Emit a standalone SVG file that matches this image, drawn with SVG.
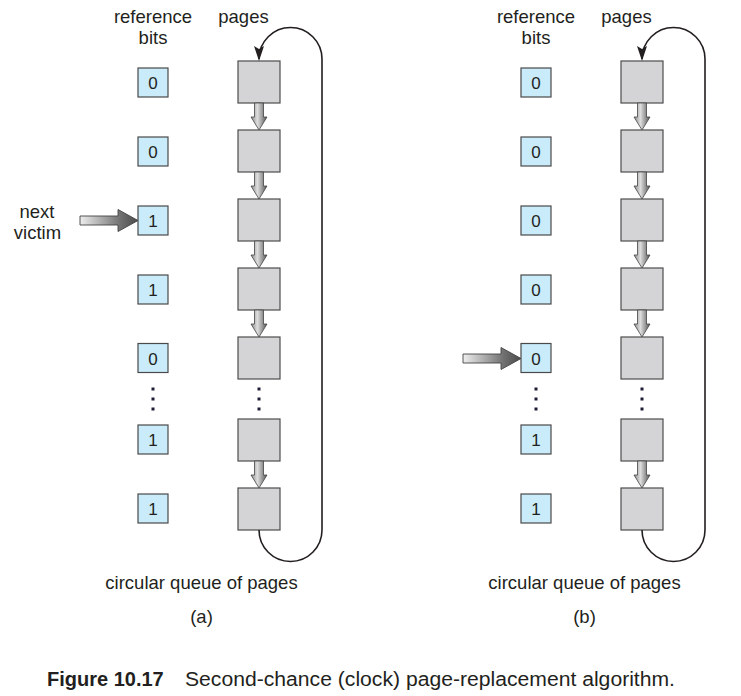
<svg xmlns="http://www.w3.org/2000/svg" xmlns:xlink="http://www.w3.org/1999/xlink" width="741" height="696" viewBox="0 0 741 696">
<defs>
<style>
text{font-family:"Liberation Sans",Arial,Helvetica,sans-serif;fill:#231f20}
.lbl{font-size:18.5px;text-anchor:middle}
.dig{font-size:17px;text-anchor:middle}
.bit{fill:#c9ebfa;stroke:#4a4a4a;stroke-width:1.2}
.page{fill:#d4d4d6;stroke:#4d4d4d;stroke-width:1.2}
.dot{fill:#1e1e36}
.loop{fill:none;stroke:#231f20;stroke-width:1.6}
.darr{fill:url(#gv);stroke:#444;stroke-width:0.8}
.harr{fill:url(#gh);stroke:#444;stroke-width:0.9}
</style>
<linearGradient id="gv" x1="0" y1="0" x2="1" y2="0">
<stop offset="0" stop-color="#8a8a8a"/><stop offset="0.4" stop-color="#dedede"/><stop offset="1" stop-color="#555555"/>
</linearGradient>
<linearGradient id="gh" x1="0" y1="0" x2="1" y2="0">
<stop offset="0" stop-color="#eeeeee"/><stop offset="0.7" stop-color="#707070"/><stop offset="1" stop-color="#4a4a4a"/>
</linearGradient>
<path id="down" class="darr" d="M -4.5 0 L 4.5 0 L 4.5 14 L 8 14 L 0 27 L -8 14 L -4.5 14 Z"/>
<path id="right" class="harr" d="M 0 -4.5 L 38 -4.5 L 38 -11 L 58 0 L 38 11 L 38 4.5 L 0 4.5 Z"/>
</defs>
<rect width="741" height="696" fill="#ffffff"/>

<g id="panel-a">
<g id="headers-a">
<text class="lbl" x="153" y="23">reference</text>
<text class="lbl" x="153" y="44">bits</text>
<text class="lbl" x="243.5" y="23">pages</text>
</g>
<g id="bits-a">
<g id="bit-a1"><rect class="bit" x="138" y="68" width="30" height="29"/><text class="dig" x="153" y="89">0</text></g>
<g id="bit-a2"><rect class="bit" x="138" y="137" width="30" height="29"/><text class="dig" x="153" y="158">0</text></g>
<g id="bit-a3"><rect class="bit" x="138" y="206" width="30" height="29"/><text class="dig" x="153" y="227">1</text></g>
<g id="bit-a4"><rect class="bit" x="138" y="275" width="30" height="29"/><text class="dig" x="153" y="296">1</text></g>
<g id="bit-a5"><rect class="bit" x="138" y="343.5" width="30" height="29"/><text class="dig" x="153" y="364.5">0</text></g>
<g id="bit-a6"><rect class="bit" x="138" y="425" width="30" height="29"/><text class="dig" x="153" y="446">1</text></g>
<g id="bit-a7"><rect class="bit" x="138" y="494" width="30" height="29"/><text class="dig" x="153" y="515">1</text></g>
<rect class="dot" x="151.5" y="387.5" width="3" height="3"/><rect class="dot" x="151.5" y="397.5" width="3" height="3"/><rect class="dot" x="151.5" y="407.5" width="3" height="3"/>
</g>
<g id="pages-a">
<rect id="page-a1" class="page" x="238" y="61" width="42" height="42"/>
<rect id="page-a2" class="page" x="238" y="130" width="42" height="42"/>
<rect id="page-a3" class="page" x="238" y="199" width="42" height="42"/>
<rect id="page-a4" class="page" x="238" y="268" width="42" height="42"/>
<rect id="page-a5" class="page" x="238" y="337" width="42" height="42"/>
<rect id="page-a6" class="page" x="238" y="419" width="42" height="42"/>
<rect id="page-a7" class="page" x="238" y="488" width="42" height="42"/>
<rect class="dot" x="257.5" y="387.5" width="3" height="3"/><rect class="dot" x="257.5" y="397.5" width="3" height="3"/><rect class="dot" x="257.5" y="407.5" width="3" height="3"/>
</g>
<g id="connectors-a">
<use xlink:href="#down" x="259" y="103"/>
<use xlink:href="#down" x="259" y="172"/>
<use xlink:href="#down" x="259" y="241"/>
<use xlink:href="#down" x="259" y="310"/>
<use xlink:href="#down" x="259" y="461"/>
<path class="loop" d="M 259 530 A 31.5 31.5 0 0 0 322 530 L 322 59 A 31.5 31.5 0 0 0 259 59 L 259 50"/>
<path d="M 254 46 L 259 61 L 264 46 L 259 49 Z" fill="#231f20"/>
<use xlink:href="#right" x="80" y="220.5"/>
</g>
<g id="victim-label">
<text class="lbl" x="37" y="218">next</text>
<text class="lbl" x="37.5" y="239">victim</text>
</g>
<text class="lbl" x="201.5" y="589">circular queue of pages</text>
<text class="lbl" x="201.5" y="623">(a)</text>
</g>

<g id="panel-b">
<g id="headers-b">
<text class="lbl" x="536" y="23">reference</text>
<text class="lbl" x="536" y="44">bits</text>
<text class="lbl" x="626.5" y="23">pages</text>
</g>
<g id="bits-b">
<g id="bit-b1"><rect class="bit" x="521" y="68" width="30" height="29"/><text class="dig" x="536" y="89">0</text></g>
<g id="bit-b2"><rect class="bit" x="521" y="137" width="30" height="29"/><text class="dig" x="536" y="158">0</text></g>
<g id="bit-b3"><rect class="bit" x="521" y="206" width="30" height="29"/><text class="dig" x="536" y="227">0</text></g>
<g id="bit-b4"><rect class="bit" x="521" y="275" width="30" height="29"/><text class="dig" x="536" y="296">0</text></g>
<g id="bit-b5"><rect class="bit" x="521" y="343.5" width="30" height="29"/><text class="dig" x="536" y="364.5">0</text></g>
<g id="bit-b6"><rect class="bit" x="521" y="425" width="30" height="29"/><text class="dig" x="536" y="446">1</text></g>
<g id="bit-b7"><rect class="bit" x="521" y="494" width="30" height="29"/><text class="dig" x="536" y="515">1</text></g>
<rect class="dot" x="534.5" y="387.5" width="3" height="3"/><rect class="dot" x="534.5" y="397.5" width="3" height="3"/><rect class="dot" x="534.5" y="407.5" width="3" height="3"/>
</g>
<g id="pages-b">
<rect id="page-b1" class="page" x="621" y="61" width="42" height="42"/>
<rect id="page-b2" class="page" x="621" y="130" width="42" height="42"/>
<rect id="page-b3" class="page" x="621" y="199" width="42" height="42"/>
<rect id="page-b4" class="page" x="621" y="268" width="42" height="42"/>
<rect id="page-b5" class="page" x="621" y="337" width="42" height="42"/>
<rect id="page-b6" class="page" x="621" y="419" width="42" height="42"/>
<rect id="page-b7" class="page" x="621" y="488" width="42" height="42"/>
<rect class="dot" x="640.5" y="387.5" width="3" height="3"/><rect class="dot" x="640.5" y="397.5" width="3" height="3"/><rect class="dot" x="640.5" y="407.5" width="3" height="3"/>
</g>
<g id="connectors-b">
<use xlink:href="#down" x="642" y="103"/>
<use xlink:href="#down" x="642" y="172"/>
<use xlink:href="#down" x="642" y="241"/>
<use xlink:href="#down" x="642" y="310"/>
<use xlink:href="#down" x="642" y="461"/>
<path class="loop" d="M 642 530 A 31.5 31.5 0 0 0 705 530 L 705 59 A 31.5 31.5 0 0 0 642 59 L 642 50"/>
<path d="M 637 46 L 642 61 L 647 46 L 642 49 Z" fill="#231f20"/>
<use xlink:href="#right" x="463" y="358.5"/>
</g>
<text class="lbl" x="584.5" y="589">circular queue of pages</text>
<text class="lbl" x="584.5" y="623">(b)</text>
</g>

<g id="caption">
<text x="47" y="686" font-size="20" font-weight="bold">Figure 10.17</text>
<text x="185" y="686" font-size="20" textLength="490" lengthAdjust="spacingAndGlyphs">Second-chance (clock) page-replacement algorithm.</text>
</g>
</svg>
